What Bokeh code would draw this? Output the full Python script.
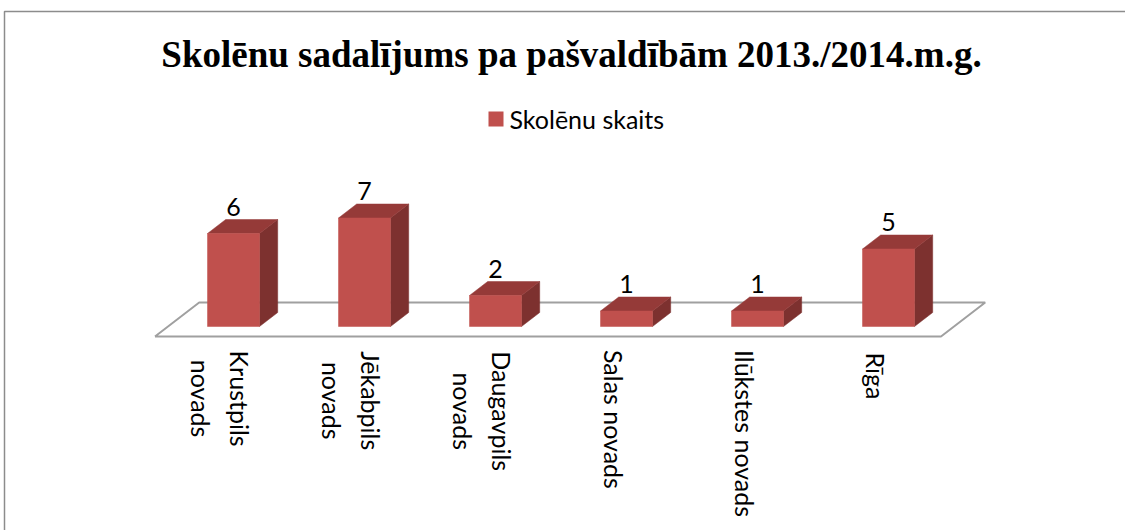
import math
from bokeh.plotting import figure
from bokeh.models import Range1d
from bokeh.core.properties import value
from bokeh.embed import file_html
from bokeh.resources import INLINE

# ---------------- data ----------------
categories = ["Krustpils\nnovads", "Jēkabpils\nnovads", "Daugavpils\nnovads",
              "Salas  novads", "Ilūkstes novads", "Rīga"]
values = [6, 7, 2, 1, 1, 5]
series_name = "Skolēnu skaits"
chart_title = "Skolēnu sadalījums pa pašvaldībām 2013./2014.m.g."

# ---------------- layout ----------------
W, H = 1125, 530
CAT_PX = 131.0      # pixels per category
VAL_PX = 15.5       # pixels per value unit
X0_PX = 233.0       # pixel x of first category's bar front centre
Y0_PX = 326.0       # pixel y of bar base (front)
DEPTH_DX, DEPTH_DY = 44.2, 34.0   # floor depth vector in pixels
D_FRONT = 10.0 / 34.0             # bar front depth (0=floor front, 1=floor back)
D_BACK = 1.0 - D_FRONT
BAR_FRAC = 52.0 / CAT_PX

FRONT = "#C0504D"
TOP = "#953A38"
SIDE = "#7D312F"
FLOOR = "#A0A0A0"
FONT = "Lato"


def px_x(px):
    return (px - X0_PX) / CAT_PX


def px_y(py):
    return (Y0_PX - py) / VAL_PX


def proj(c, v, d):
    """project (category, value, depth) into data coords"""
    ox = (d - D_FRONT) * DEPTH_DX / CAT_PX
    oy = (d - D_FRONT) * DEPTH_DY / VAL_PX
    return c + ox, v + oy


p = figure(width=W, height=H, output_backend="svg", toolbar_location=None,
           x_range=Range1d(px_x(0), px_x(W)), y_range=Range1d(px_y(H), px_y(0)),
           min_border=0, x_axis_location=None, y_axis_location=None)
p.grid.visible = False
p.outline_line_color = None
p.background_fill_color = "white"
p.border_fill_color = "white"

# chart border (cut at right/bottom like the reference)
p.line([px_x(4), px_x(4), px_x(1300)], [px_y(700), px_y(11), px_y(11)],
       line_color="#8C8C8C", line_width=1.5)

# floor
n = len(categories)
fx, fy = [], []
for c, d in [(-0.5, 0.0), (n - 0.5, 0.0), (n - 0.5, 1.0), (-0.5, 1.0), (-0.5, 0.0)]:
    x, y = proj(c, 0, d)
    fx.append(x)
    fy.append(y)
p.line(fx, fy, line_color=FLOOR, line_width=2)

# bars
hw = BAR_FRAC / 2
front_xs, front_ys, top_xs, top_ys, side_xs, side_ys = [], [], [], [], [], []
for i, v in enumerate(values):
    pts = {}
    for key, (c, val, d) in {
        "fl0": (i - hw, 0, D_FRONT), "fr0": (i + hw, 0, D_FRONT),
        "flv": (i - hw, v, D_FRONT), "frv": (i + hw, v, D_FRONT),
        "br0": (i + hw, 0, D_BACK), "brv": (i + hw, v, D_BACK),
        "blv": (i - hw, v, D_BACK),
    }.items():
        pts[key] = proj(c, val, d)
    def poly(keys):
        return [pts[k][0] for k in keys], [pts[k][1] for k in keys]
    a, b = poly(["fl0", "fr0", "frv", "flv"]); front_xs.append(a); front_ys.append(b)
    a, b = poly(["flv", "frv", "brv", "blv"]); top_xs.append(a); top_ys.append(b)
    a, b = poly(["fr0", "br0", "brv", "frv"]); side_xs.append(a); side_ys.append(b)

p.patches(side_xs, side_ys, fill_color=SIDE, line_color=SIDE, line_width=0.5)
p.patches(top_xs, top_ys, fill_color=TOP, line_color=TOP, line_width=0.5)
p.patches(front_xs, front_ys, fill_color=FRONT, line_color=FRONT, line_width=0.5)

# value labels
p.text(x=list(range(n)), y=[v + 27.0 / VAL_PX for v in values],
       text=[str(v) for v in values], text_font=value(FONT), text_font_size="25px",
       text_align="center", text_baseline="middle", text_color="black")

# category labels (rotated, top-aligned, lines centred)
CW = {"s": .40, "t": .33, "r": .36, "i": .23, "l": .23, "j": .23, "a": .49, "o": .55,
      "n": .55, "u": .55, "v": .50, "d": .55, "p": .55, "b": .55, "g": .53, "k": .49,
      "e": .51, "ē": .51, "ū": .55, "ī": .23, "K": .56, "J": .33, "D": .65, "S": .50,
      "I": .26, "R": .55, " ": .19}
LBL_SIZE = 25


def est_w(s):
    return sum(CW.get(ch, .5) for ch in s) * LBL_SIZE


lx, ly = [], []
top_y_px = 353.0
for i, lab in enumerate(categories):
    wmax = max(est_w(s) for s in lab.split("\n"))
    x, _ = proj(i, 0, 0.0)
    lx.append(x)
    ly.append(px_y(top_y_px + wmax / 2))
p.text(x=lx, y=ly, text=categories, angle=-math.pi / 2, text_font=value(FONT),
       text_font_size=f"{LBL_SIZE}px", text_align="center", text_baseline="middle",
       text_line_height=1.32, text_color="black")

# title
p.text(x=[px_x(571)], y=[px_y(54)], text=[chart_title],
       text_font=value("Liberation Serif"), text_font_style="bold",
       text_font_size="37px", text_align="center", text_baseline="middle",
       text_color="black")

# legend
p.rect(x=[px_x(495.5)], y=[px_y(118.5)], width=15, height=15,
       width_units="screen", height_units="screen", fill_color=FRONT, line_color=None)
p.text(x=[px_x(509)], y=[px_y(118)], text=[series_name], text_font=value(FONT),
       text_font_size="25px", text_align="left", text_baseline="middle",
       text_color="black")

open("out.html", "w").write(file_html(p, INLINE))
